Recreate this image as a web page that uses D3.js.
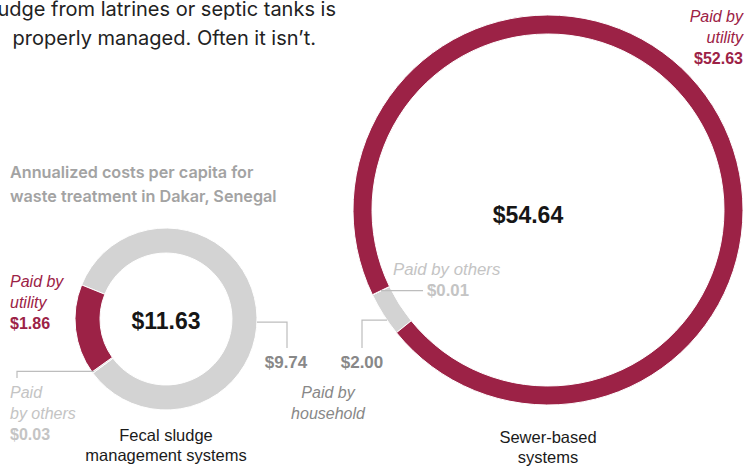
<!DOCTYPE html>
<html>
<head>
<meta charset="utf-8">
<script src="https://cdn.jsdelivr.net/npm/d3@7"></script>
<style>
  body { margin: 0; background: #fff; }
  svg { display: block; font-family: "Liberation Sans", Arial, sans-serif; }
</style>
</head>
<body>
<div id="chart"></div>
<script>
const payers = ["household", "others", "utility"];
const fecalValues = [9.74, 0.03, 1.86];
const sewerValues = [2.0, 0.01, 52.63];
const totals = [11.63, 54.64];
const systemNames = [["Fecal sludge", "management systems"], ["Sewer-based", "systems"]];
const headerLines = ["sludge from latrines or septic tanks is", "properly managed. Often it isn\u2019t."];
const subtitleLines = ["Annualized costs per capita for", "waste treatment in Dakar, Senegal"];

const width = 753, height = 467;
const red = "#9c2246", ringGray = "#d3d3d3", labelGray = "#888", lightGray = "#c4c4c4", lineGray = "#bdbdbd";

const colorScale = d3.scaleOrdinal().domain(payers).range([ringGray, ringGray, red]);
const fmt = d3.format("$.2f");

const svg = d3.select("#chart").append("svg")
  .attr("width", width)
  .attr("height", height);

// header text (cut off on the left like the source)
svg.append("g").selectAll("text")
  .data(headerLines)
  .join("text")
  .attr("x", (d, i) => i === 0 ? 336 : 316)
  .attr("y", (d, i) => 16 + i * 29)
  .attr("text-anchor", "end")
  .attr("font-family", "Inter, sans-serif")
  .attr("font-size", 20)
  .attr("fill", "#222")
  .text(d => d);

svg.append("g").selectAll("text")
  .data(subtitleLines)
  .join("text")
  .attr("x", 10)
  .attr("y", (d, i) => 178 + i * 24)
  .attr("font-family", "Inter, sans-serif")
  .attr("font-size", 16.2)
  .attr("font-weight", 600)
  .attr("fill", "#a3a3a3")
  .text(d => d);

const donuts = [
  { values: fecalValues, total: totals[0], name: systemNames[0], cx: 166, cy: 319, r: 91, thick: 25, start: -68, tx: 0, nameY: 441 },
  { values: sewerValues, total: totals[1], name: systemNames[1], cx: 548, cy: 210, r: 195, thick: 19, start: -129, tx: -20, nameY: 443 }
];

const toRad = deg => deg * Math.PI / 180;

donuts.forEach(dn => {
  const pie = d3.pie().sort(null)
    .startAngle(toRad(dn.start))
    .endAngle(toRad(dn.start + 360));
  const arcs = pie(dn.values).map((a, i) => Object.assign(a, { key: payers[i] }));
  dn.arcs = arcs;
  const arc = d3.arc().innerRadius(dn.r - dn.thick).outerRadius(dn.r);

  const g = svg.append("g").attr("transform", `translate(${dn.cx},${dn.cy})`);
  g.selectAll("path")
    .data(arcs)
    .join("path")
    .attr("d", arc)
    .attr("fill", d => colorScale(d.key))
    .attr("stroke", "#fff")
    .attr("stroke-width", 1);

  g.append("text")
    .attr("x", dn.tx)
    .attr("y", dn === donuts[0] ? 10 : 13)
    .attr("text-anchor", "middle")
    .attr("font-size", 23)
    .attr("font-weight", "bold")
    .attr("fill", "#161616")
    .text(fmt(dn.total));

  svg.append("g").selectAll("text")
    .data(dn.name)
    .join("text")
    .attr("x", dn.cx)
    .attr("y", (d, i) => dn.nameY + i * 20)
    .attr("text-anchor", "middle")
    .attr("font-size", 16.5)
    .attr("fill", "#1a1a1a")
    .text(d => d);
});

// point on a ring at a given angle (radians, clockwise from 12 o'clock)
function ringPoint(dn, a, rr) {
  return [dn.cx + rr * Math.sin(a), dn.cy - rr * Math.cos(a)];
}

function multiLabel(x, y, lines, anchor, size) {
  const t = svg.append("text")
    .attr("x", x)
    .attr("y", y)
    .attr("text-anchor", anchor)
    .attr("font-size", size || 16);
  lines.forEach((l, i) => {
    t.append("tspan")
      .attr("x", x)
      .attr("dy", i === 0 ? 0 : 21)
      .attr("font-style", l.italic ? "italic" : null)
      .attr("font-weight", l.bold ? "bold" : null)
      .attr("fill", l.color)
      .text(l.text);
  });
}

const fecal = donuts[0], sewer = donuts[1];

// fecal: utility label
multiLabel(10, 287, [
  { text: "Paid by", italic: true, color: red },
  { text: "utility", italic: true, color: red },
  { text: fmt(fecalValues[2]), bold: true, color: red }
], "start");

// fecal: others leader + label
const fo = fecal.arcs[1];
const foPt = ringPoint(fecal, (fo.startAngle + fo.endAngle) / 2, fecal.r - 2);
svg.append("path")
  .attr("d", `M${foPt[0]},${foPt[1]}H17V378`)
  .attr("fill", "none").attr("stroke", lineGray).attr("stroke-width", 1.2);
multiLabel(10, 398, [
  { text: "Paid", italic: true, color: lightGray },
  { text: "by others", italic: true, color: lightGray },
  { text: fmt(fecalValues[1]), bold: true, color: lightGray }
], "start");

// fecal: household leader
const fhPt = ringPoint(fecal, toRad(92), fecal.r);
svg.append("path")
  .attr("d", `M${fhPt[0]},${fhPt[1]}H287V348`)
  .attr("fill", "none").attr("stroke", lineGray).attr("stroke-width", 1.2);
svg.append("text")
  .attr("x", 286).attr("y", 368)
  .attr("text-anchor", "middle")
  .attr("font-size", 17).attr("font-weight", "bold")
  .attr("fill", labelGray)
  .text(fmt(fecalValues[0]));

// sewer: household leader
const sh = sewer.arcs[0];
const shPt = ringPoint(sewer, (sh.startAngle + sh.endAngle) / 2 - toRad(2), sewer.r);
svg.append("path")
  .attr("d", `M${shPt[0]},${shPt[1]}H362V348`)
  .attr("fill", "none").attr("stroke", lineGray).attr("stroke-width", 1.2);
svg.append("text")
  .attr("x", 362).attr("y", 368)
  .attr("text-anchor", "middle")
  .attr("font-size", 17).attr("font-weight", "bold")
  .attr("fill", labelGray)
  .text(fmt(sewerValues[0]));

multiLabel(328, 398, [
  { text: "Paid by", italic: true, color: labelGray },
  { text: "household", italic: true, color: labelGray }
], "middle");

// sewer: others leader + label
const so = sewer.arcs[1];
const soPt = ringPoint(sewer, (so.startAngle + so.endAngle) / 2, sewer.r - sewer.thick / 2);
svg.append("path")
  .attr("d", `M${soPt[0]},${soPt[1]}H423`)
  .attr("fill", "none").attr("stroke", lineGray).attr("stroke-width", 1.2);
svg.append("text")
  .attr("x", 393).attr("y", 275)
  .attr("font-size", 16.8).attr("font-style", "italic")
  .attr("fill", lightGray)
  .text("Paid by others");
svg.append("text")
  .attr("x", 427).attr("y", 296)
  .attr("font-size", 16.8).attr("font-weight", "bold")
  .attr("fill", lightGray)
  .text(fmt(sewerValues[1]));

// sewer: utility label
multiLabel(743, 22, [
  { text: "Paid by", italic: true, color: red },
  { text: "utility", italic: true, color: red },
  { text: fmt(sewerValues[2]), bold: true, color: red }
], "end");
</script>
</body>
</html>
